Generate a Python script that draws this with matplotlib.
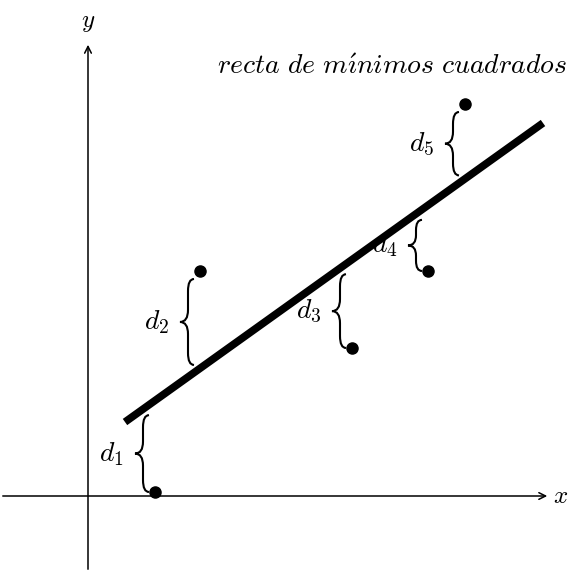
import matplotlib
matplotlib.use("Agg")
import matplotlib.pyplot as plt
from matplotlib.path import Path
from matplotlib.patches import PathPatch

plt.rcParams["mathtext.fontset"] = "cm"

# data points (x, y) and the fitted line
x_pts = [1.675, 2.8, 6.6, 8.5, 9.425]
y_pts = [0.1, 5.625, 3.7, 5.625, 9.8]
labels = [r"$d_1$", r"$d_2$", r"$d_3$", r"$d_4$", r"$d_5$"]
slope = 0.7153
intercept = 1.188
line_x = [0.925, 11.375]


def line_y(x):
    return intercept + slope * x


def brace(ax, x, y0, y1, w=0.25):
    # vertical curly brace from y0 to y1, cusp pointing left
    lo, hi = min(y0, y1), max(y0, y1)
    ym = (lo + hi) / 2
    h = min(0.3, (hi - lo) / 5)
    verts = [
        (x + w * 0.6, lo), (x, lo), (x, lo + h),
        (x, ym - h), (x, ym), (x - w * 0.8, ym),
        (x, ym), (x, ym + h),
        (x, hi - h), (x, hi), (x + w * 0.6, hi),
    ]
    codes = [Path.MOVETO, Path.CURVE3, Path.CURVE3,
             Path.LINETO, Path.CURVE3, Path.CURVE3,
             Path.CURVE3, Path.CURVE3,
             Path.LINETO, Path.CURVE3, Path.CURVE3]
    ax.add_patch(PathPatch(Path(verts, codes), fill=False, lw=1.5, color="black"))


fig = plt.figure(figsize=(5.7, 5.72), dpi=100)
ax = fig.add_axes([0, 0, 1, 1])
ax.set_xlim(-2.2, 12.05)
ax.set_ylim(-1.9, 12.4)
ax.axis("off")

# axes with arrows
ax.annotate("", xy=(11.55, 0), xytext=(-2.2, 0),
            arrowprops=dict(arrowstyle="->", lw=1.1, color="black", mutation_scale=12))
ax.annotate("", xy=(0, 11.35), xytext=(0, -1.9),
            arrowprops=dict(arrowstyle="->", lw=1.1, color="black", mutation_scale=12))
ax.text(11.82, 0, r"$x$", fontsize=18, ha="center", va="center")
ax.text(0, 11.85, r"$y$", fontsize=18, ha="center", va="center")

# least squares line
ax.plot(line_x, [line_y(v) for v in line_x], color="black", lw=5.5, solid_capstyle="butt")
ax.text(7.6, 10.75, r"$\mathit{recta\ de\ m\acute{\imath}nimos\ cuadrados}$",
        fontsize=20, ha="center", va="center")

# points, braces and labels
ax.plot(x_pts, y_pts, "o", color="black", markersize=8)
for xp, yp, lab in zip(x_pts, y_pts, labels):
    bx = xp - 0.3
    ly = line_y(bx)
    if yp < ly:
        y0, y1 = yp, ly - 0.15
    else:
        y0, y1 = ly + 0.3, yp - 0.2
    brace(ax, bx, y0, y1)
    ax.text(bx - 0.78, (y0 + y1) / 2, lab, fontsize=20, ha="center", va="center")

plt.savefig("out.png", dpi=100)
